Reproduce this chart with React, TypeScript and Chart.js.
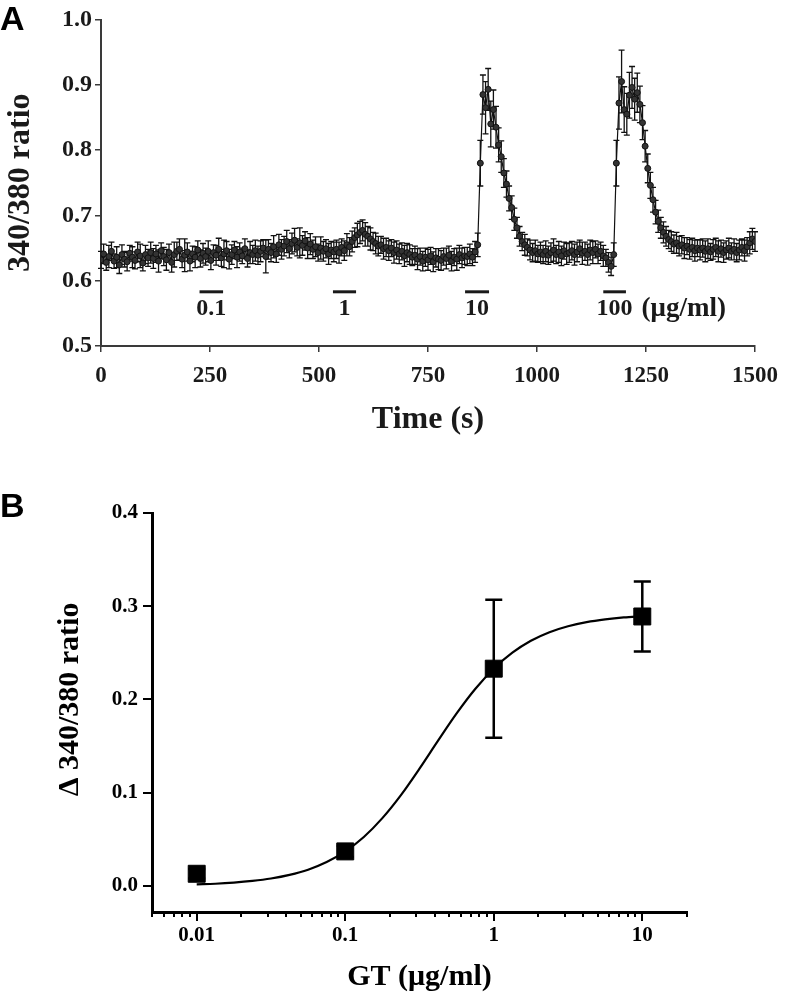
import React, { useEffect, useRef } from 'react';
import { Chart, registerables } from 'chart.js';

Chart.register(...registerables);

const SERIF = "'Liberation Serif', 'Times New Roman', serif";
const SANS = "'Liberation Sans', Arial, sans-serif";

// ---------- Panel A: 340/380 ratio over time ----------
const timeA = [
  0, 6, 12, 18, 24, 30, 36, 42, 48, 54,
  60, 66, 72, 78, 84, 90, 96, 102, 108, 114,
  120, 126, 132, 138, 144, 150, 156, 162, 168, 174,
  180, 186, 192, 198, 204, 210, 216, 222, 228, 234,
  240, 246, 252, 258, 264, 270, 276, 282, 288, 294,
  300, 306, 312, 318, 324, 330, 336, 342, 348, 354,
  360, 366, 372, 378, 384, 390, 396, 402, 408, 414,
  420, 426, 432, 438, 444, 450, 456, 462, 468, 474,
  480, 486, 492, 498, 504, 510, 516, 522, 528, 534,
  540, 546, 552, 558, 564, 570, 576, 582, 588, 594,
  600, 606, 612, 618, 624, 630, 636, 642, 648, 654,
  660, 666, 672, 678, 684, 690, 696, 702, 708, 714,
  720, 726, 732, 738, 744, 750, 756, 762, 768, 774,
  780, 786, 792, 798, 804, 810, 816, 822, 828, 834,
  840, 846, 852, 858, 864, 870, 876, 882, 888, 894,
  900, 906, 912, 918, 924, 930, 936, 942, 948, 954,
  960, 966, 972, 978, 984, 990, 996, 1002, 1008, 1014,
  1020, 1026, 1032, 1038, 1044, 1050, 1056, 1062, 1068, 1074,
  1080, 1086, 1092, 1098, 1104, 1110, 1116, 1122, 1128, 1134,
  1140, 1146, 1152, 1158, 1164, 1170, 1176, 1182, 1188, 1194,
  1200, 1206, 1212, 1218, 1224, 1230, 1236, 1242, 1248, 1254,
  1260, 1266, 1272, 1278, 1284, 1290, 1296, 1302, 1308, 1314,
  1320, 1326, 1332, 1338, 1344, 1350, 1356, 1362, 1368, 1374,
  1380, 1386, 1392, 1398, 1404, 1410, 1416, 1422, 1428, 1434,
  1440, 1446, 1452, 1458, 1464, 1470, 1476, 1482, 1488, 1494,
  1500,
];

const ratioA = [
  0.632, 0.641, 0.628, 0.637, 0.645, 0.630, 0.636, 0.624, 0.640, 0.633,
  0.629, 0.642, 0.636, 0.631, 0.644, 0.638, 0.627, 0.640, 0.635, 0.643,
  0.634, 0.641, 0.630, 0.646, 0.637, 0.632, 0.643, 0.628, 0.640, 0.645,
  0.648, 0.633, 0.639, 0.644, 0.630, 0.641, 0.636, 0.647, 0.634, 0.642,
  0.637, 0.645, 0.631, 0.643, 0.639, 0.648, 0.635, 0.641, 0.646, 0.633,
  0.640, 0.647, 0.636, 0.644, 0.638, 0.649, 0.634, 0.643, 0.640, 0.646,
  0.639, 0.645, 0.650, 0.637, 0.648, 0.643, 0.652, 0.641, 0.655, 0.648,
  0.653, 0.660, 0.649, 0.657, 0.662, 0.651, 0.658, 0.654, 0.661, 0.650,
  0.656, 0.648, 0.652, 0.643, 0.650, 0.645, 0.649, 0.641, 0.647, 0.644,
  0.648, 0.643, 0.651, 0.646, 0.655, 0.652, 0.660, 0.666, 0.670, 0.674,
  0.677, 0.671, 0.668, 0.664, 0.660, 0.657, 0.653, 0.655, 0.649, 0.651,
  0.646, 0.650, 0.643, 0.647, 0.641, 0.645, 0.638, 0.643, 0.640, 0.636,
  0.639, 0.633, 0.637, 0.630, 0.636, 0.632, 0.638, 0.629, 0.635, 0.633,
  0.631, 0.637, 0.634, 0.639, 0.630, 0.636, 0.633, 0.640, 0.635, 0.638,
  0.637, 0.641, 0.636, 0.644, 0.655, 0.780, 0.885, 0.865, 0.893, 0.840,
  0.862, 0.835, 0.808, 0.790, 0.765, 0.748, 0.726, 0.712, 0.694, 0.681,
  0.668, 0.660, 0.655, 0.651, 0.647, 0.643, 0.646, 0.641, 0.644, 0.640,
  0.645, 0.639, 0.643, 0.647, 0.640, 0.644, 0.638, 0.646, 0.641, 0.643,
  0.646, 0.640, 0.644, 0.649, 0.642, 0.645, 0.640, 0.647, 0.643, 0.648,
  0.641, 0.645, 0.638, 0.635, 0.628, 0.622, 0.640, 0.780, 0.872, 0.905,
  0.862, 0.855, 0.884, 0.896, 0.878, 0.888, 0.870, 0.842, 0.806, 0.772,
  0.746, 0.724, 0.705, 0.691, 0.681, 0.674, 0.668, 0.663, 0.660, 0.656,
  0.658, 0.653, 0.655, 0.650, 0.653, 0.648, 0.651, 0.646, 0.650, 0.647,
  0.650, 0.645, 0.649, 0.644, 0.648, 0.651, 0.645, 0.649, 0.643, 0.647,
  0.650, 0.645, 0.648, 0.643, 0.647, 0.651, 0.646, 0.652, 0.658, 0.664,
  0.660,
];

const semA = [
  0.013, 0.015, 0.012, 0.017, 0.014, 0.011, 0.016, 0.013, 0.015, 0.012,
  0.014, 0.012, 0.016, 0.013, 0.015, 0.018, 0.012, 0.014, 0.013, 0.016,
  0.015, 0.013, 0.017, 0.012, 0.014, 0.016, 0.013, 0.015, 0.019, 0.014,
  0.016, 0.013, 0.025, 0.014, 0.015, 0.012, 0.016, 0.014, 0.013, 0.015,
  0.013, 0.016, 0.014, 0.012, 0.015, 0.017, 0.013, 0.021, 0.014, 0.015,
  0.015, 0.013, 0.016, 0.014, 0.012, 0.015, 0.013, 0.017, 0.014, 0.016,
  0.014, 0.016, 0.013, 0.025, 0.015, 0.014, 0.017, 0.013, 0.016, 0.015,
  0.015, 0.017, 0.014, 0.016, 0.018, 0.013, 0.023, 0.015, 0.014, 0.016,
  0.016, 0.014, 0.015, 0.013, 0.017, 0.015, 0.014, 0.016, 0.013, 0.015,
  0.014, 0.016, 0.013, 0.015, 0.017, 0.014, 0.016, 0.015, 0.018, 0.017,
  0.016, 0.018, 0.015, 0.017, 0.014, 0.016, 0.015, 0.013, 0.016, 0.014,
  0.015, 0.013, 0.016, 0.014, 0.015, 0.013, 0.016, 0.014, 0.015, 0.013,
  0.014, 0.016, 0.013, 0.015, 0.014, 0.016, 0.013, 0.015, 0.014, 0.016,
  0.015, 0.013, 0.016, 0.014, 0.015, 0.013, 0.017, 0.014, 0.015, 0.013,
  0.014, 0.015, 0.013, 0.016, 0.018, 0.035, 0.030, 0.040, 0.032, 0.035,
  0.030, 0.032, 0.026, 0.024, 0.022, 0.020, 0.019, 0.018, 0.017, 0.016,
  0.015, 0.014, 0.016, 0.013, 0.015, 0.014, 0.016, 0.013, 0.015, 0.014,
  0.016, 0.014, 0.015, 0.017, 0.014, 0.016, 0.015, 0.013, 0.016, 0.015,
  0.014, 0.016, 0.015, 0.013, 0.017, 0.014, 0.016, 0.015, 0.017, 0.013,
  0.015, 0.014, 0.016, 0.013, 0.015, 0.014, 0.018, 0.035, 0.040, 0.048,
  0.035, 0.032, 0.035, 0.032, 0.032, 0.030, 0.028, 0.026, 0.024, 0.022,
  0.020, 0.019, 0.018, 0.017, 0.016, 0.016, 0.015, 0.014, 0.015, 0.014,
  0.016, 0.015, 0.014, 0.016, 0.013, 0.015, 0.014, 0.016, 0.013, 0.015,
  0.014, 0.016, 0.015, 0.013, 0.015, 0.014, 0.016, 0.013, 0.015, 0.014,
  0.015, 0.013, 0.016, 0.014, 0.015, 0.013, 0.016, 0.014, 0.017, 0.016,
  0.015,
];

const xTicksA = [0, 250, 500, 750, 1000, 1250, 1500];
const yTicksA = [0.5, 0.6, 0.7, 0.8, 0.9, 1.0];
const doseLabelsA = ['0.1', '1', '10', '100'];
const doseStartA = [226, 532, 835, 1152];
const doseEndA = [280, 585, 890, 1204];
const doseUnitA = '(μg/ml)';
const doseBarLevelA = 0.583;
const doseTextLevelA = 0.557;

// ---------- Panel B: dose response ----------
const dosesB = [0.01, 0.1, 1, 10];
const responseB = [0.013, 0.037, 0.233, 0.289];
const semB = [0.005, 0.006, 0.074, 0.0375];
const fitXB = [
  0.01, 0.01334, 0.01778, 0.02371, 0.03162, 0.04217, 0.05623, 0.07499,
  0.1, 0.1334, 0.1778, 0.2371, 0.3162, 0.4217, 0.5623, 0.7499,
  1, 1.334, 1.778, 2.371, 3.162, 4.217, 5.623, 7.499, 10,
];
const fitYB = [
  0.0016, 0.0023, 0.0035, 0.0053, 0.0079, 0.0118, 0.0174, 0.0256,
  0.0370, 0.0525, 0.0727, 0.0974, 0.1258, 0.1558, 0.1850, 0.2112,
  0.2330, 0.2501, 0.2629, 0.2721, 0.2785, 0.2829, 0.2859, 0.2880, 0.2893,
];
const xMajorB = [0.01, 0.1, 1, 10];
const xMajorLabelsB = ['0.01', '0.1', '1', '10'];
const xMinorB = [
  0.005, 0.006, 0.007, 0.008, 0.009,
  0.02, 0.03, 0.04, 0.05, 0.06, 0.07, 0.08, 0.09,
  0.2, 0.3, 0.4, 0.5, 0.6, 0.7, 0.8, 0.9,
  2, 3, 4, 5, 6, 7, 8, 9, 20,
];
const yTicksB = [0.0, 0.1, 0.2, 0.3, 0.4];

const errorBarsA = {
  id: 'errorBarsA',
  beforeDatasetsDraw(chart: any) {
    const { ctx, scales } = chart;
    const x = scales.x;
    const y = scales.y;
    ctx.save();
    ctx.strokeStyle = '#111';
    ctx.lineWidth = 1.3;
    ctx.beginPath();
    for (let i = 0; i < timeA.length; i++) {
      const px = x.getPixelForValue(timeA[i]);
      const top = y.getPixelForValue(ratioA[i] + semA[i]);
      const bot = y.getPixelForValue(ratioA[i] - semA[i]);
      ctx.moveTo(px, top);
      ctx.lineTo(px, bot);
      ctx.moveTo(px - 3, top);
      ctx.lineTo(px + 3, top);
      ctx.moveTo(px - 3, bot);
      ctx.lineTo(px + 3, bot);
    }
    ctx.stroke();
    ctx.restore();
  },
};

const doseMarksA = {
  id: 'doseMarksA',
  afterDraw(chart: any) {
    const { ctx, scales } = chart;
    const x = scales.x;
    const y = scales.y;
    ctx.save();
    ctx.strokeStyle = '#1a1a1a';
    ctx.lineWidth = 3;
    ctx.fillStyle = '#1a1a1a';
    ctx.font = `bold 24px ${SERIF}`;
    ctx.textAlign = 'center';
    ctx.textBaseline = 'middle';
    const barY = y.getPixelForValue(doseBarLevelA);
    const textY = y.getPixelForValue(doseTextLevelA);
    let lastRight = 0;
    doseLabelsA.forEach((lab, i) => {
      const x0 = x.getPixelForValue(doseStartA[i]);
      const x1 = x.getPixelForValue(doseEndA[i]);
      ctx.beginPath();
      ctx.moveTo(x0, barY);
      ctx.lineTo(x1, barY);
      ctx.stroke();
      const cx = (x0 + x1) / 2;
      ctx.fillText(lab, cx, textY);
      lastRight = cx + ctx.measureText(lab).width / 2;
    });
    ctx.font = `bold 27px ${SERIF}`;
    ctx.textAlign = 'left';
    ctx.fillText(doseUnitA, lastRight + 9, textY);
    ctx.restore();
  },
};

const errorBarsB = {
  id: 'errorBarsB',
  afterDatasetsDraw(chart: any) {
    const { ctx, scales } = chart;
    const x = scales.x;
    const y = scales.y;
    ctx.save();
    ctx.strokeStyle = '#000';
    ctx.lineWidth = 2.5;
    ctx.beginPath();
    for (let i = 0; i < dosesB.length; i++) {
      const px = x.getPixelForValue(dosesB[i]);
      const top = y.getPixelForValue(responseB[i] + semB[i]);
      const bot = y.getPixelForValue(responseB[i] - semB[i]);
      ctx.moveTo(px, top);
      ctx.lineTo(px, bot);
      ctx.moveTo(px - 8.5, top);
      ctx.lineTo(px + 8.5, top);
      ctx.moveTo(px - 8.5, bot);
      ctx.lineTo(px + 8.5, bot);
    }
    ctx.stroke();
    ctx.restore();
  },
};

const extrasB = {
  id: 'extrasB',
  afterDraw(chart: any) {
    const { ctx, scales, chartArea } = chart;
    const x = scales.x;
    const y = scales.y;
    ctx.save();
    // longer marks for the decades
    ctx.strokeStyle = '#000';
    ctx.lineWidth = 2;
    ctx.beginPath();
    xMajorB.forEach((v) => {
      const px = Math.round(x.getPixelForValue(v));
      ctx.moveTo(px, chartArea.bottom + 4);
      ctx.lineTo(px, chartArea.bottom + 9);
    });
    ctx.stroke();
    // y-axis title, centred on the labelled range
    const cy = y.getPixelForValue((yTicksB[0] + yTicksB[yTicksB.length - 1]) / 2);
    ctx.translate(70, cy);
    ctx.rotate(-Math.PI / 2);
    ctx.fillStyle = '#000';
    ctx.font = `bold 30px ${SERIF}`;
    ctx.textAlign = 'center';
    ctx.textBaseline = 'middle';
    ctx.fillText('Δ 340/380 ratio', 0, 0);
    ctx.restore();
  },
};

export default function App() {
  const refA = useRef<HTMLCanvasElement>(null);
  const refB = useRef<HTMLCanvasElement>(null);

  useEffect(() => {
    const fontA = (size: number) => ({ family: SERIF, size, weight: 'bold' as const });
    const chartA = new Chart(refA.current as HTMLCanvasElement, {
      type: 'line',
      data: {
        datasets: [
          {
            data: timeA.map((t, i) => ({ x: t, y: ratioA[i] })),
            borderColor: '#111',
            borderWidth: 1.2,
            pointRadius: 3,
            pointBorderWidth: 1,
            pointBackgroundColor: '#333',
            pointBorderColor: '#111',
            tension: 0,
          },
        ],
      },
      options: {
        animation: false,
        responsive: false,
        layout: { padding: { left: 0, top: 19.5, right: 28, bottom: 0 } },
        plugins: { legend: { display: false }, tooltip: { enabled: false } },
        scales: {
          x: {
            type: 'linear',
            min: 0,
            max: 1500,
            afterBuildTicks: (s: any) => {
              s.ticks = xTicksA.map((v) => ({ value: v }));
            },
            afterFit: (s: any) => {
              s.height = 124;
            },
            grid: { drawOnChartArea: false, drawTicks: true, tickLength: 6, color: '#3a3a3a', lineWidth: 1.5 },
            border: { display: true, color: '#3a3a3a', width: 2 },
            ticks: {
              autoSkip: false,
              maxRotation: 0,
              padding: 10,
              color: '#1a1a1a',
              font: fontA(23),
              callback: (v: any) => String(v),
            },
            title: {
              display: true,
              text: 'Time (s)',
              color: '#1a1a1a',
              font: fontA(32),
              padding: { top: 0, bottom: 31 },
            },
          },
          y: {
            type: 'linear',
            min: 0.5,
            max: 1.0,
            afterBuildTicks: (s: any) => {
              s.ticks = yTicksA.map((v) => ({ value: v }));
            },
            afterFit: (s: any) => {
              s.width = 101;
            },
            grid: { drawOnChartArea: false, drawTicks: true, tickLength: 6, color: '#3a3a3a', lineWidth: 1.5 },
            border: { display: true, color: '#3a3a3a', width: 2 },
            ticks: {
              autoSkip: false,
              padding: 3,
              color: '#1a1a1a',
              font: fontA(24),
              callback: (v: any) => Number(v).toFixed(1),
            },
            title: {
              display: true,
              text: '340/380 ratio',
              color: '#1a1a1a',
              font: fontA(32),
              padding: { top: 2, bottom: 0 },
            },
          },
        },
      },
      plugins: [errorBarsA, doseMarksA],
    } as any);

    const chartB = new Chart(refB.current as HTMLCanvasElement, {
      type: 'line',
      data: {
        datasets: [
          {
            data: dosesB.map((d, i) => ({ x: d, y: responseB[i] })),
            showLine: false,
            pointStyle: 'rect',
            pointRadius: 12,
            pointBorderWidth: 1,
            pointBackgroundColor: '#000',
            pointBorderColor: '#000',
          },
          {
            data: fitXB.map((d, i) => ({ x: d, y: fitYB[i] })),
            borderColor: '#000',
            borderWidth: 2.2,
            pointRadius: 0,
            cubicInterpolationMode: 'monotone',
          },
        ],
      },
      options: {
        animation: false,
        responsive: false,
        layout: { padding: { left: 0, top: 43, right: 101, bottom: 0 } },
        plugins: { legend: { display: false }, tooltip: { enabled: false } },
        scales: {
          x: {
            type: 'logarithmic',
            min: 0.005,
            max: 20,
            afterBuildTicks: (s: any) => {
              s.ticks = [...xMajorB, ...xMinorB]
                .sort((a, b) => a - b)
                .map((v) => ({ value: v }));
            },
            afterFit: (s: any) => {
              s.height = 91;
            },
            grid: { drawOnChartArea: false, drawTicks: true, tickLength: 5, color: '#000', lineWidth: 2 },
            border: { display: true, color: '#000', width: 3 },
            ticks: {
              autoSkip: false,
              maxRotation: 0,
              padding: 6,
              color: '#000',
              font: fontA(21),
              callback: (v: any) => {
                const k = xMajorB.indexOf(v);
                return k >= 0 ? xMajorLabelsB[k] : '';
              },
            },
            title: {
              display: true,
              text: 'GT (μg/ml)',
              color: '#000',
              font: fontA(30),
              padding: { top: 0, bottom: 8 },
            },
          },
          y: {
            type: 'linear',
            min: -0.028,
            max: 0.4,
            afterBuildTicks: (s: any) => {
              s.ticks = yTicksB.map((v) => ({ value: v }));
            },
            afterFit: (s: any) => {
              s.width = 152;
            },
            grid: { drawOnChartArea: false, drawTicks: true, tickLength: 9, color: '#000', lineWidth: 2 },
            border: { display: true, color: '#000', width: 3 },
            ticks: {
              autoSkip: false,
              padding: 5,
              color: '#000',
              font: fontA(21),
              callback: (v: any) => Number(v).toFixed(1),
            },
            title: { display: false },
          },
        },
      },
      plugins: [errorBarsB, extrasB],
    } as any);

    return () => {
      chartA.destroy();
      chartB.destroy();
    };
  }, []);

  const letter: React.CSSProperties = {
    position: 'absolute',
    left: 0,
    font: `bold 34px ${SANS}`,
    lineHeight: '34px',
    color: '#000',
    margin: 0,
  };

  return (
    <div
      style={{
        position: 'absolute',
        left: 0,
        top: 0,
        width: 788,
        height: 1003,
        background: '#fff',
        overflow: 'hidden',
      }}
    >
      <canvas ref={refA} width={788} height={470} style={{ position: 'absolute', left: 0, top: 0 }} />
      <canvas ref={refB} width={788} height={533} style={{ position: 'absolute', left: 0, top: 470 }} />
      <div style={{ ...letter, top: 1 }}>A</div>
      <div style={{ ...letter, top: 488 }}>B</div>
    </div>
  );
}
